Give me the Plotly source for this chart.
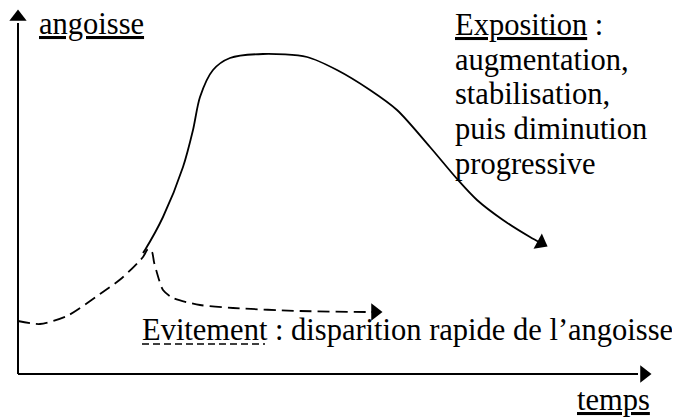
import numpy as np
import plotly.graph_objects as go

# Data (time, anxiety) in arbitrary units
evit_t = [0, 22, 49, 82, 104, 125, 130, 134, 136, 139, 145, 155, 182, 215, 282, 349, 357]
evit_a = [53, 50, 58, 80, 96, 117, 125, 122, 112, 101, 84, 76, 69, 66, 63, 62, 62]

expo_t = [125, 127, 145, 165, 175, 182, 195, 212, 245, 289, 319, 352, 379, 412, 440, 459, 485, 512, 523]
expo_a = [121, 124, 157, 207, 244, 277, 304, 316, 320, 317, 304, 284, 264, 227, 194, 174, 154, 137, 131]

x_label = "temps"
y_label = "angoisse"
expo_lines = ["<u>Exposition</u> :", "augmentation,", "stabilisation,", "puis diminution", "progressive"]
evit_text = "Evitement : disparition rapide de l’angoisse"

X_END = 626   # end of time axis (arrow tip region)
Y_END = 357   # end of anxiety axis
FONT = "Times New Roman, Liberation Serif, DejaVu Serif, serif"
FS = 30.5

def end_angle(t, a):
    dt = t[-1] - t[-2]
    da = a[-1] - a[-2]
    return float(np.degrees(np.arctan2(-da, dt)))

fig = go.Figure()

# axes drawn as lines with arrow heads
fig.add_trace(go.Scatter(x=[0, X_END - 6], y=[0, 0], mode="lines",
                         line=dict(color="black", width=2), hoverinfo="skip", showlegend=False))
fig.add_trace(go.Scatter(x=[0, 0], y=[0, Y_END - 6], mode="lines",
                         line=dict(color="black", width=2), hoverinfo="skip", showlegend=False))
fig.add_trace(go.Scatter(x=[X_END, 0], y=[0, Y_END], mode="markers",
                         marker=dict(symbol=["triangle-right", "triangle-up"], size=15, color="black"),
                         hoverinfo="skip", showlegend=False))

fig.add_trace(go.Scatter(x=evit_t, y=evit_a, mode="lines",
                         line=dict(color="black", width=1.8, dash="12px,6px", shape="spline", smoothing=0.7),
                         hoverinfo="skip", showlegend=False))
fig.add_trace(go.Scatter(x=expo_t, y=expo_a, mode="lines",
                         line=dict(color="black", width=1.8, shape="spline", smoothing=0.8),
                         hoverinfo="skip", showlegend=False))

# arrow heads at curve ends
fig.add_trace(go.Scatter(x=[evit_t[-1], expo_t[-1]], y=[evit_a[-1], expo_a[-1]], mode="markers",
                         marker=dict(symbol="triangle-right", size=15, color="black",
                                     angle=[end_angle(evit_t, evit_a), end_angle(expo_t, expo_a)]),
                         hoverinfo="skip", showlegend=False))

# page has an 8px body margin: figure is 672x411 placed at (8, 8)
fig.update_xaxes(range=[-10, 662], visible=False)
fig.update_yaxes(range=[-45, 366], visible=False)

def label(text, x, baseline):
    fig.add_annotation(text=text, x=x, y=baseline - 11, xref="x", yref="y",
                       xanchor="left", yanchor="bottom", showarrow=False,
                       font=dict(family=FONT, size=FS, color="black"))

label(f"<u>{y_label}</u>", 19, 342)
label(f"<u>{x_label}</u>", 557, -34)
for i, ln in enumerate(expo_lines):
    label(ln, 435, 341 - i * 34.7)
label(evit_text, 122, 36)
fig.add_shape(type="line", x0=124, x1=247, y0=30, y1=30, xref="x", yref="y",
              line=dict(color="black", width=1.6, dash="7px,4px"))

fig.update_layout(width=672, height=411, margin=dict(l=0, r=0, t=0, b=0),
                  font=dict(family=FONT, color="black"),
                  paper_bgcolor="white", plot_bgcolor="white")
fig.write_html("out.html")
